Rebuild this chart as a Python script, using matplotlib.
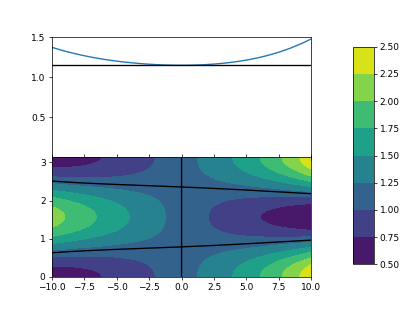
import numpy as np
import matplotlib
matplotlib.use('Agg')
import matplotlib.pyplot as plt

# Where the filled contour bands change colour
# along the bottom edge (y = 0) and along the middle row (y = pi/2).
EDGE_X = [-10.0, -7.1, -2.0, 1.2, 3.75, 6.1, 8.0, 9.2, 10.0]
EDGE_Z = [0.63, 0.75, 1.0, 1.25, 1.5, 1.75, 2.0, 2.25, 2.47]
MID_X = [-10.0, -8.85, -6.4, -4.0, -1.25, 1.95, 5.5, 10.0]
MID_Z = [2.09, 2.0, 1.75, 1.5, 1.25, 1.0, 0.75, 0.53]

# value of the whole column at x = 0 (horizontal line, black contour)
C_LEVEL = 1.15
LEVELS = [0.5, 0.75, 1.0, 1.25, 1.5, 1.75, 2.0, 2.25, 2.5]
X_TICKS = [-10, -7.5, -5, -2.5, 0, 2.5, 5, 7.5, 10]
TOP_YTICKS = [0.5, 1.0, 1.5]
BOTTOM_YTICKS = [0, 1, 2, 3]


def fit_profiles():
    """Quartics through the read crossings, both pinned to C_LEVEL at x = 0,
    with opposite slopes there so the mean has its minimum at x = 0."""
    ex = np.asarray(EDGE_X)
    mx = np.asarray(MID_X)
    ze = np.zeros_like(ex)
    zm = np.zeros_like(mx)
    # unknowns: slope, edge x^2..x^4, mid x^2..x^4
    rows_e = np.column_stack([ex, ex ** 2, ex ** 3, ex ** 4, ze, ze, ze])
    rows_m = np.column_stack([-mx, zm, zm, zm, mx ** 2, mx ** 3, mx ** 4])
    design = np.vstack([rows_e, rows_m])
    target = np.concatenate([np.asarray(EDGE_Z), np.asarray(MID_Z)]) - C_LEVEL
    return np.linalg.lstsq(design, target, rcond=None)[0]


def main():
    k, e2, e3, e4, m2, m3, m4 = fit_profiles()
    x = np.linspace(-10, 10, 400)
    y = np.linspace(0, np.pi, 200)
    edge = C_LEVEL + k * x + e2 * x ** 2 + e3 * x ** 3 + e4 * x ** 4
    mid = C_LEVEL - k * x + m2 * x ** 2 + m3 * x ** 3 + m4 * x ** 4
    mean = (edge + mid) / 2
    amp = (edge - mid) / 2
    X, Y = np.meshgrid(x, y)
    Z = mean[None, :] + amp[None, :] * np.cos(2 * Y)

    fig, (ax1, ax2) = plt.subplots(2, 1, sharex=True,
                                   figsize=(415 / 65, 311 / 65), dpi=65)
    fig.subplots_adjust(right=0.75, hspace=0)

    ax1.plot(x, mean)
    ax1.axhline(C_LEVEL, color='k')
    ax1.set_ylim(0, 1.5)
    ax1.set_yticks(TOP_YTICKS)

    cs = ax2.contourf(X, Y, Z, levels=LEVELS, cmap='viridis')
    ax2.contour(X, Y, Z, levels=[C_LEVEL], colors='k')
    ax2.set_xlim(-10, 10)
    ax2.set_xticks(X_TICKS)
    ax2.set_yticks(BOTTOM_YTICKS)
    ax2.tick_params(top=True)

    cax = fig.add_axes([0.85, 0.15, 0.05, 0.7])
    fig.colorbar(cs, cax=cax)

    fig.savefig('out.png', dpi=65)


if __name__ == '__main__':
    main()
